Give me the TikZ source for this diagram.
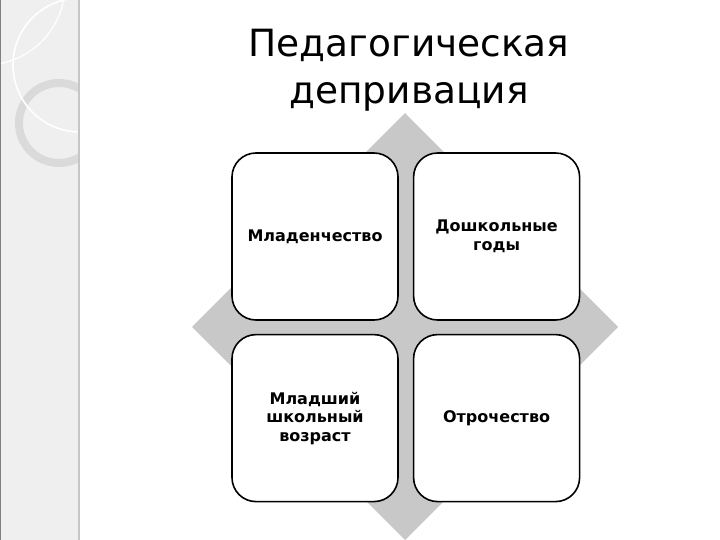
\documentclass[tikz,border=0pt]{standalone}
\usepackage{fontspec}
\setmainfont{DejaVu Sans}
\usetikzlibrary{positioning}

\definecolor{stripgray}{HTML}{EFEFEF}
\definecolor{ringgray}{HTML}{DADADA}
\definecolor{diamgray}{HTML}{C8C8C8}

\tikzset{
  stage/.style={draw=black, line width=1.6pt, fill=white, rounded corners=24pt,
    minimum width=166pt, minimum height=167pt, align=center,
    font=\bfseries\fontsize{16}{18.5}\selectfont},
  heading/.style={align=center, font=\fontsize{37.5}{47}\selectfont}
}

\begin{document}
\begin{tikzpicture}[x=1pt, y=-1pt]
\useasboundingbox (0,0) rectangle (720,540);

% left strip
\fill[stripgray] (0,0) rectangle (80,540);
\begin{scope}
\clip (0,0) rectangle (78,540);
\draw[ringgray, line width=8pt] (59,123) circle (40);
\draw[white, line width=1.6pt] (80,65) circle (67);
\draw[white, line width=1.2pt] (-15,-15) circle (80);
\end{scope}
\draw[gray!45, line width=1.5pt] (79,0) -- (79,540);
\draw[gray, line width=1.5pt] (0.7,0) -- (0.7,540);

% title
\node[heading] (title) at (409,70) {Педагогическая\\депривация};

% diamond behind
\fill[diamgray] (405,113) -- (618,327) -- (405,540) -- (192,327) -- cycle;

\node[stage] (infancy) at (315,236.5) {Младенчество};
\node[stage, right=14pt of infancy] (preschool) {Дошкольные\\годы};
\node[stage, below=13pt of infancy] (school) {Младший\\школьный\\возраст};
\node[stage, right=14pt of school] (teen) {Отрочество};

\end{tikzpicture}
\end{document}
